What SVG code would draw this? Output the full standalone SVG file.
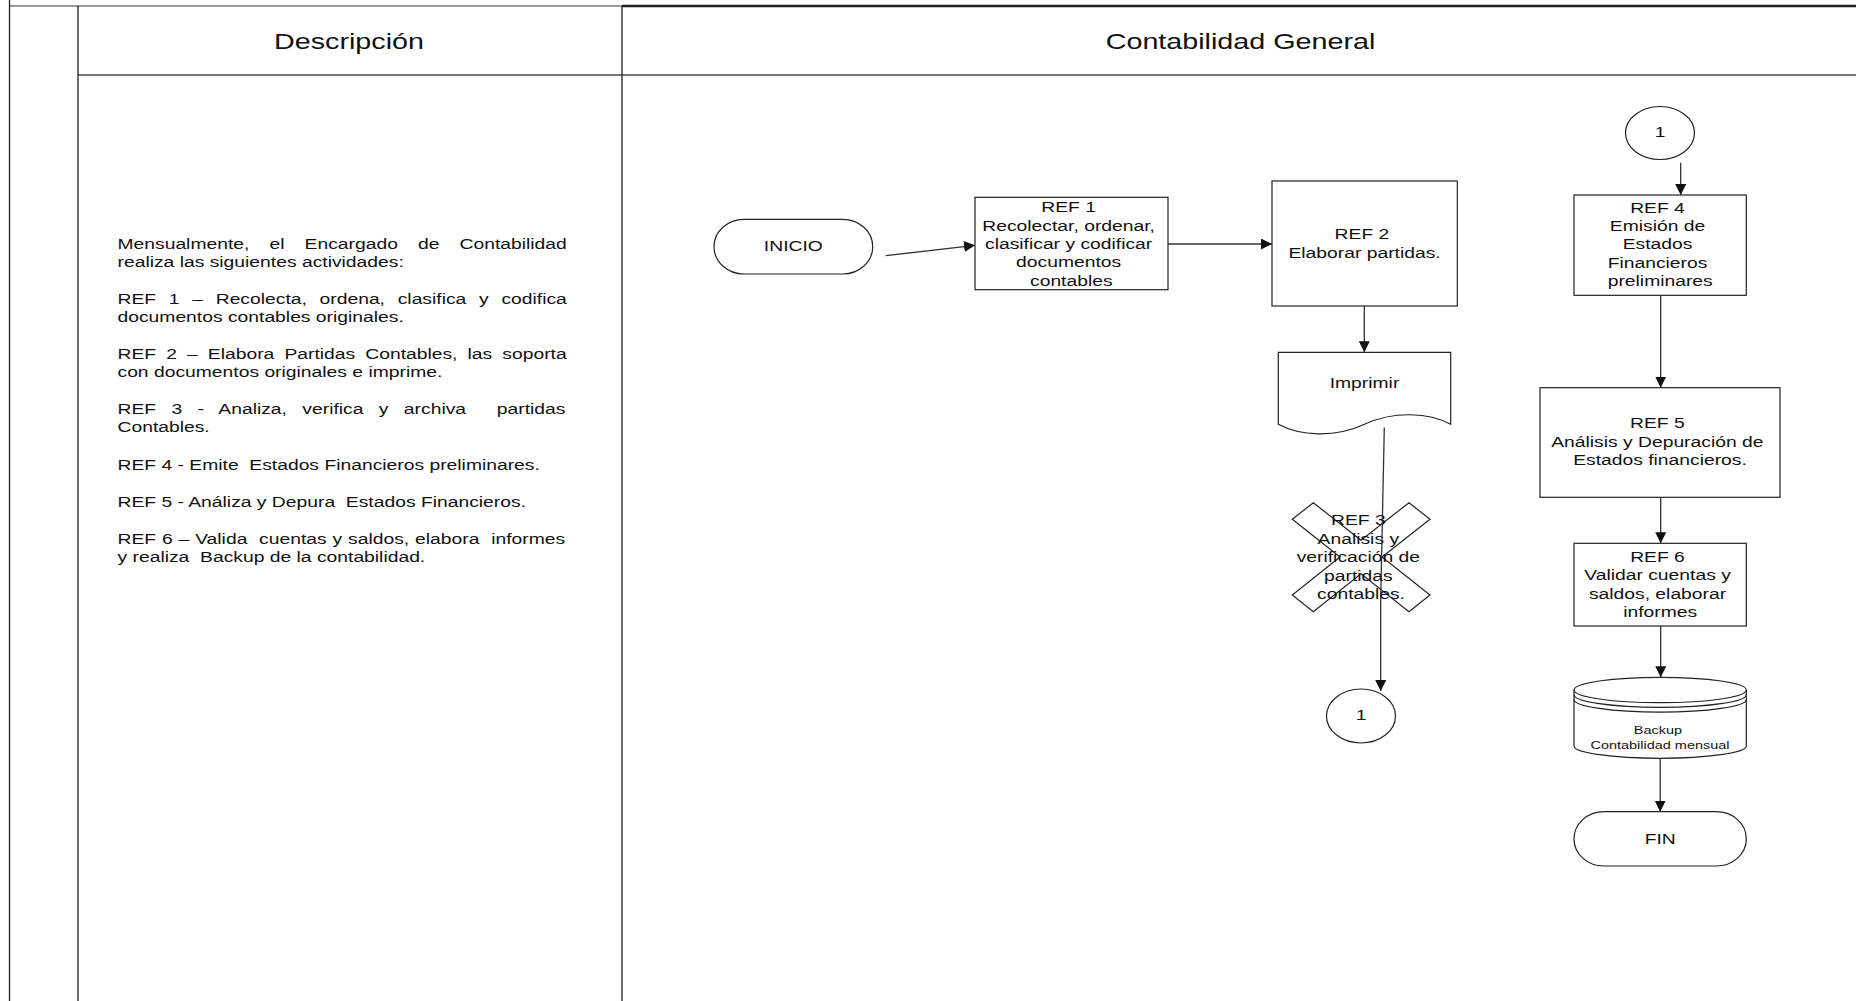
<svg xmlns="http://www.w3.org/2000/svg" width="1856" height="1001" viewBox="0 0 1856 1001">
  <style>
    text { font-family: "Liberation Sans", Arial, sans-serif; fill: #111; }
    .t { font-size: 15.2px; text-anchor: middle; }
    .small { font-size: 11.4px; text-anchor: middle; }
    .head { font-size: 22.6px; text-anchor: middle; }
    .desc text { font-size: 15.2px; text-anchor: start; }
    .shape { fill: none; stroke: #222; stroke-width: 1.2; }
    .frame { stroke: #222; stroke-width: 1.3; fill: none; }
    .conn { fill: none; stroke: #333; stroke-width: 1.3; marker-end: url(#arrow); }
  </style>
  <defs>
    <marker id="arrow" markerUnits="userSpaceOnUse" markerWidth="12" markerHeight="12" refX="11" refY="5.5" orient="auto">
      <path d="M0,0 L11,5.5 L0,11 Z" fill="#111"/>
    </marker>
  </defs>

  <rect width="1856" height="1001" fill="#fff"/>

  <!-- table frame -->
  <g id="frame">
    <line class="frame" x1="9.5" y1="0" x2="9.5" y2="1001"/>
    <line x1="9.5" y1="6" x2="622" y2="6" stroke="#333" stroke-width="1.2"/>
    <line x1="622" y1="6" x2="1856" y2="6" stroke="#222" stroke-width="2.4"/>
    <line x1="78" y1="75" x2="1856" y2="75" stroke="#777" stroke-width="1.8"/>
    <line class="frame" x1="78" y1="6" x2="78" y2="1001" stroke-width="1.6"/>
    <line class="frame" x1="622" y1="6" x2="622" y2="1001" stroke-width="1.6"/>
    <text class="head" transform="translate(349 0) scale(1.27 1)" x="0" y="49">Descripción</text>
    <text class="head" transform="translate(1240.5 0) scale(1.27 1)" x="0" y="49">Contabilidad General</text>
  </g>

  <!-- description column -->
  <g id="description" class="desc" transform="translate(117.5 0) scale(1.27 1)">
    <text xml:space="preserve" x="0" y="249" word-spacing="11.6">Mensualmente, el Encargado de Contabilidad</text>
    <text xml:space="preserve" x="0" y="267.5">realiza las siguientes actividades:</text>
    <text xml:space="preserve" x="0" y="304" word-spacing="5.8">REF 1 – Recolecta, ordena, clasifica y codifica</text>
    <text xml:space="preserve" x="0" y="322.5">documentos contables originales.</text>
    <text xml:space="preserve" x="0" y="359" word-spacing="3.73">REF 2 – Elabora Partidas Contables, las soporta</text>
    <text xml:space="preserve" x="0" y="377.5">con documentos originales e imprime.</text>
    <text xml:space="preserve" x="0" y="414" word-spacing="7.9">REF 3 - Analiza, verifica y archiva  partidas</text>
    <text xml:space="preserve" x="0" y="432.5">Contables.</text>
    <text xml:space="preserve" x="0" y="470">REF 4 - Emite  Estados Financieros preliminares.</text>
    <text xml:space="preserve" x="0" y="507">REF 5 - Análiza y Depura  Estados Financieros.</text>
    <text xml:space="preserve" x="0" y="544" word-spacing="0.41">REF 6 – Valida  cuentas y saldos, elabora  informes</text>
    <text xml:space="preserve" x="0" y="562.5">y realiza  Backup de la contabilidad.</text>
  </g>

  <!-- flow nodes -->
  <g id="inicio">
    <rect class="shape" x="714" y="219.3" width="158.7" height="54.7" rx="30" ry="27.3"/>
    <text class="t" transform="translate(793.3 0) scale(1.27 1)" x="0" y="251">INICIO</text>
  </g>

  <g id="ref1">
    <rect class="shape" x="975" y="197.3" width="193" height="92.4"/>
    <text class="t" transform="translate(1071.3 0) scale(1.27 1)">
      <tspan x="0" y="212.3">REF 1</tspan>
      <tspan x="0" y="230.7">Recolectar, ordenar,</tspan>
      <tspan x="0" y="249">clasificar y codificar</tspan>
      <tspan x="0" y="267.3">documentos</tspan>
      <tspan x="0" y="285.6">contables</tspan>
    </text>
  </g>

  <g id="ref2">
    <rect class="shape" x="1272" y="181" width="185.3" height="125"/>
    <text class="t" transform="translate(1364.6 0) scale(1.27 1)">
      <tspan x="0" y="239.3">REF 2</tspan>
      <tspan x="0" y="257.7">Elaborar partidas.</tspan>
    </text>
  </g>

  <g id="imprimir">
    <path class="shape" d="M1278.3,424.3 V352.3 H1450.7 V424.3 C1429,412.6 1394,410.6 1364.5,424.3 C1335,438 1300,436 1278.3,424.3 Z"/>
    <text class="t" transform="translate(1364.5 0) scale(1.27 1)" x="0" y="387.7">Imprimir</text>
  </g>

  <g id="ref3">
    <path class="shape" d="M1292.3,519.3 L1313.3,502.7 L1361,540.3 L1409,502.7 L1430,519.3 L1382,557 L1430,595 L1409,611.7 L1361,573.7 L1313.3,611.7 L1292.3,595 L1340,557 Z"/>
    <text class="t" transform="translate(1361 0) scale(1.27 1)">
      <tspan x="0" y="525">REF 3</tspan>
      <tspan x="0" y="543.7">Analisis y</tspan>
      <tspan x="0" y="562.3">verificación de</tspan>
      <tspan x="0" y="580.7">partidas</tspan>
      <tspan x="0" y="599">contables.</tspan>
    </text>
  </g>

  <g id="conector-1-salida">
    <ellipse class="shape" cx="1361" cy="716" rx="34.5" ry="27"/>
    <text class="t" transform="translate(1361 0) scale(1.27 1)" x="0" y="720.5">1</text>
  </g>

  <g id="conector-1-entrada">
    <ellipse class="shape" cx="1660" cy="133" rx="34.5" ry="26.5"/>
    <text class="t" transform="translate(1660 0) scale(1.27 1)" x="0" y="137.5">1</text>
  </g>

  <g id="ref4">
    <rect class="shape" x="1574" y="195" width="172.3" height="100.3"/>
    <text class="t" transform="translate(1660.2 0) scale(1.27 1)">
      <tspan x="0" y="212.7">REF 4</tspan>
      <tspan x="0" y="231">Emisión de</tspan>
      <tspan x="0" y="249.3">Estados</tspan>
      <tspan x="0" y="267.7">Financieros</tspan>
      <tspan x="0" y="286">preliminares</tspan>
    </text>
  </g>

  <g id="ref5">
    <rect class="shape" x="1540" y="387.7" width="240" height="109.6"/>
    <text class="t" transform="translate(1660 0) scale(1.27 1)">
      <tspan x="0" y="428.3">REF 5</tspan>
      <tspan x="0" y="447">Análisis y Depuración de</tspan>
      <tspan x="0" y="465.3">Estados financieros.</tspan>
    </text>
  </g>

  <g id="ref6">
    <rect class="shape" x="1574" y="543.3" width="172.3" height="82.7"/>
    <text class="t" transform="translate(1660.2 0) scale(1.27 1)">
      <tspan x="0" y="561.7">REF 6</tspan>
      <tspan x="0" y="580">Validar cuentas y</tspan>
      <tspan x="0" y="598.7">saldos, elaborar</tspan>
      <tspan x="0" y="617.3">informes</tspan>
    </text>
  </g>

  <g id="backup">
    <path class="shape" d="M1574,690 V746 A86.15,12.3 0 0 0 1746.3,746 V690"/>
    <ellipse class="shape" cx="1660.15" cy="690" rx="86.15" ry="12.7"/>
    <path class="shape" d="M1574,694.7 A86.15,12.7 0 0 0 1746.3,694.7"/>
    <path class="shape" d="M1574,699.4 A86.15,12.7 0 0 0 1746.3,699.4"/>
    <text class="small" transform="translate(1660 0) scale(1.27 1)">
      <tspan x="0" y="734.3">Backup</tspan>
      <tspan x="0" y="749.3">Contabilidad mensual</tspan>
    </text>
  </g>

  <g id="fin">
    <rect class="shape" x="1574" y="811.7" width="172.3" height="54.3" rx="30" ry="27"/>
    <text class="t" transform="translate(1660.2 0) scale(1.27 1)" x="0" y="844">FIN</text>
  </g>

  <!-- connectors -->
  <g id="connectors">
    <line class="conn" x1="885.7" y1="255.7" x2="975" y2="245.3"/>
    <line class="conn" x1="1168" y1="244" x2="1272" y2="244"/>
    <line class="conn" x1="1364.3" y1="306" x2="1364.3" y2="352.3"/>
    <polyline class="conn" points="1384.3,427.5 1380.7,600 1380.7,691"/>
    <line class="conn" x1="1680.7" y1="162.7" x2="1680.7" y2="195"/>
    <line class="conn" x1="1660.7" y1="295.3" x2="1660.7" y2="387.7"/>
    <line class="conn" x1="1660.7" y1="497.3" x2="1660.7" y2="543.3"/>
    <line class="conn" x1="1660.7" y1="626" x2="1660.7" y2="677.3"/>
    <line class="conn" x1="1660.2" y1="758.7" x2="1660.2" y2="811.7"/>
  </g>
</svg>
